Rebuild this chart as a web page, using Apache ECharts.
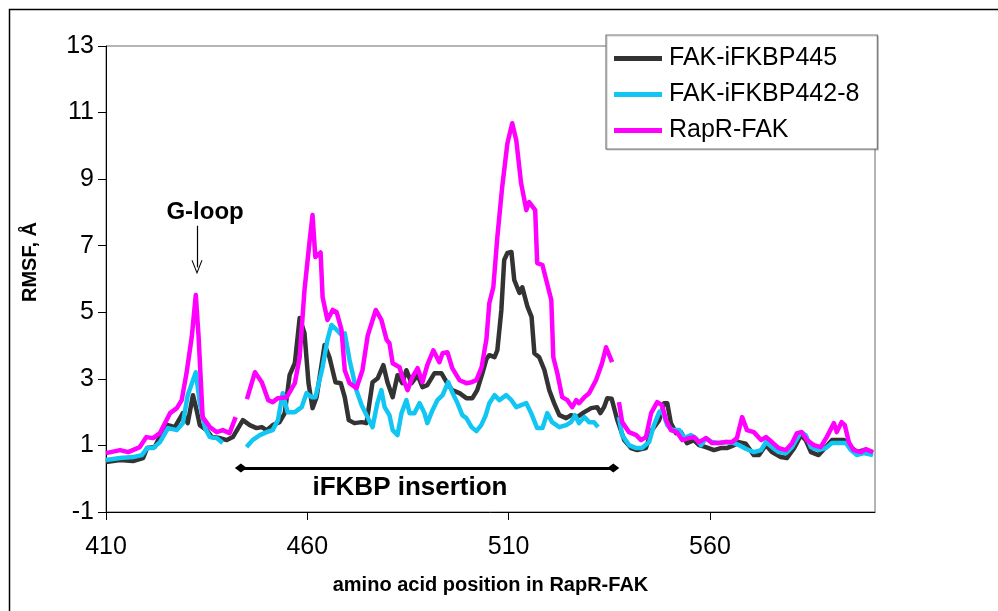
<!DOCTYPE html>
<html>
<head>
<meta charset="utf-8">
<script src="https://cdn.jsdelivr.net/npm/echarts@6/dist/echarts.min.js"></script>
<style>
  html, body { margin: 0; padding: 0; background: #fff; }
  #chart { width: 998px; height: 611px; }
</style>
</head>
<body>
<div id="chart"></div>
<script>
// tick labels on x
const xTicks = [410, 460, 510, 560];
const seriesNames = ["FAK-iFKBP445", "FAK-iFKBP442-8", "RapR-FAK"];

// FAK-iFKBP445 (black)
const xBlack = [410, 413.5, 416.7, 419.2, 420.2, 422.1, 424.1, 425.4, 427.1, 429.1, 430.3, 431.6, 432.5, 433.3, 435, 436.3, 438.3, 440, 441.5, 444, 445.7, 447.4, 448.7, 449.9, 451.4, 453.1, 454.4, 455.6, 456.9, 458.1, 459.3, 460.3, 461.3, 462.3, 464.3, 465.5, 467, 468.3, 469.3, 470.3, 471.7, 473.5, 474.7, 476.2, 477.5, 478.9, 479.9, 481.2, 482.4, 483.6, 484.6, 485.9, 487.4, 488.6, 489.8, 491.6, 493.3, 494.6, 496, 497.8, 499.5, 501, 502.2, 503.5, 504.5, 505.2, 506.5, 507.2, 508.2, 508.9, 509.7, 510.7, 511.4, 512.7, 513.4, 514.7, 515.7, 516.4, 517.6, 518.9, 520.1, 521.3, 522.6, 524.3, 525.5, 527, 528.8, 530.5, 532, 532.8, 533.7, 534.5, 535.6, 537, 538.7, 540.4, 541.9, 544.1, 545.6, 547.4, 548.6, 549.4, 550.3, 551.6, 552.8, 554.3, 556, 557.3, 559, 561, 562.7, 564.2, 566, 567.2, 568.9, 570.9, 572.2, 573.9, 575.4, 577.6, 579.1, 580.9, 582.6, 583.8, 585.1, 587, 588.8, 590.3, 592, 593.3, 595, 596.5, 598.2, 600.5];
const yBlack = [0.50, 0.56, 0.53, 0.62, 0.92, 0.95, 1.46, 1.61, 1.55, 1.97, 1.67, 2.51, 2.06, 1.61, 1.46, 1.25, 1.22, 1.16, 1.25, 1.76, 1.61, 1.52, 1.55, 1.46, 1.61, 1.70, 1.97, 3.11, 3.47, 4.83, 4.37, 2.87, 2.12, 2.45, 4.02, 3.65, 2.90, 2.87, 2.45, 1.76, 1.67, 1.70, 1.67, 2.90, 3.02, 3.41, 2.90, 2.45, 3.11, 2.87, 3.26, 2.87, 3.11, 2.75, 2.81, 3.17, 3.17, 2.90, 2.66, 2.57, 2.42, 2.42, 2.66, 3.17, 3.60, 3.71, 3.65, 3.86, 5.07, 6.57, 6.78, 6.81, 5.97, 5.58, 5.75, 5.16, 4.86, 3.77, 3.65, 3.26, 2.66, 2.27, 1.91, 1.82, 1.91, 1.85, 2.00, 2.12, 2.15, 1.97, 2.15, 2.42, 2.40, 1.76, 1.16, 0.92, 0.86, 0.92, 1.46, 1.76, 2.27, 2.27, 1.67, 1.37, 1.40, 1.07, 1.16, 1.01, 0.95, 0.86, 0.92, 0.92, 1.01, 1.10, 1.05, 0.71, 0.71, 1.01, 0.80, 0.65, 0.62, 0.92, 1.31, 1.16, 0.80, 0.71, 0.95, 1.16, 1.16, 1.16, 0.95, 0.80, 0.86, 0.77];

// FAK-iFKBP442-8 (cyan), null = gap
const xCyan = [410, 413.5, 416.7, 418.9, 420.2, 421.7, 423.4, 425.4, 427.6, 429.1, 430.3, 432.3, 433.3, 434.6, 435.8, 437.5, 439, 441, 444.9, 446.4, 448.2, 449.9, 451.4, 452.7, 453.9, 455.1, 456.9, 458.6, 459.8, 461.1, 462, 463.8, 465, 466, 467.3, 468.5, 469.3, 470.5, 472.2, 473.5, 474.7, 476.2, 477.4, 478.4, 479.2, 480.4, 481.2, 482.4, 483.4, 484.6, 485.4, 486.6, 487.9, 489.1, 489.8, 491.1, 492.3, 493.6, 495, 496, 497.3, 498.5, 499.5, 500.8, 502, 503.2, 504.3, 505.2, 506.5, 507.7, 509.4, 510.7, 511.9, 513.1, 514.4, 515.6, 517.1, 518.4, 519.6, 520.8, 522.6, 524.3, 525.5, 526.5, 527.5, 528.8, 530, 531.2, 532.2, 535, 537.4, 538.2, 539.9, 541.7, 543.1, 544.9, 546.1, 547.4, 548.1, 549.4, 550.6, 552.4, 553.6, 555.3, 556.5, 557.8, 559, 560.5, 562.2, 564, 566, 567.2, 568.9, 570.9, 572.7, 573.9, 575.4, 577.1, 578.9, 580.4, 582.6, 583.8, 585.1, 587, 588.8, 590.3, 592, 593.8, 595, 596.5, 598.2, 600.5];
const yCyan = [0.56, 0.62, 0.65, 0.71, 0.92, 0.92, 1.10, 1.52, 1.46, 1.67, 2.51, 3.20, 2.27, 1.52, 1.25, 1.22, 1.07, null, 0.95, 1.16, 1.31, 1.40, 1.46, 1.76, 2.57, 2.00, 2.00, 2.15, 2.57, 2.45, 2.45, 3.35, 4.17, 4.62, 4.47, 4.32, 4.37, 3.56, 2.66, 2.21, 1.91, 1.55, 2.27, 2.66, 2.15, 1.91, 1.46, 1.31, 1.97, 2.36, 1.97, 1.97, 2.27, 1.97, 1.67, 2.06, 2.36, 2.51, 2.90, 2.60, 2.27, 1.91, 1.82, 1.55, 1.43, 1.61, 1.90, 2.27, 2.51, 2.36, 2.51, 2.36, 2.15, 2.21, 2.27, 1.97, 1.52, 1.52, 1.97, 1.70, 1.55, 1.61, 1.70, 1.91, 1.67, 1.85, 1.70, 1.70, 1.55, null, 1.85, 1.31, 1.01, 0.92, 0.92, 1.10, 1.61, 2.00, 2.06, 1.61, 1.46, 1.46, 1.22, 1.31, 1.22, 1.01, 1.22, 1.10, 1.07, 1.10, 1.07, 1.01, 0.90, 0.80, 0.86, 1.10, 0.95, 0.80, 0.77, 0.95, 1.40, 1.31, 0.95, 0.86, 0.92, 1.07, 1.07, 1.07, 0.86, 0.71, 0.77, 0.71];

// RapR-FAK (magenta), null = gap
const xMagenta = [410, 413.5, 415.5, 418.4, 420, 421.7, 423.4, 425.9, 427.6, 428.8, 430, 431.3, 432.3, 433, 434, 435.8, 437.5, 439, 440.7, 442.2, 443.5, 445, 447, 448.7, 450.3, 451.4, 452.7, 454.9, 456.9, 458.1, 459.3, 460.6, 461.3, 462, 463.3, 463.8, 465, 466.3, 467.3, 468.5, 469.3, 470.5, 472.2, 473.7, 475, 477, 478.4, 479.7, 480.4, 481.2, 482.9, 483.6, 484.9, 486.1, 487.4, 488.6, 489.8, 491.3, 492.8, 493.6, 494.8, 496, 497.8, 499.5, 500.8, 502, 503.3, 504.5, 505.2, 506.2, 507.2, 508.4, 509.7, 510.9, 511.9, 513.1, 514.4, 515.1, 516.6, 517.1, 518.4, 520.6, 521.1, 522.1, 523.3, 524.6, 525.8, 526.8, 527.5, 528.8, 530, 531.7, 533.2, 534.2, 535.7, 536.6, 537.4, 538.2, 539.9, 541.7, 542.9, 544.1, 545.4, 546.9, 548.1, 549.1, 550.3, 551.8, 553.1, 554.8, 556, 557.3, 559, 560.5, 562.2, 564, 565.5, 566.7, 568, 569.2, 570.9, 572.7, 573.9, 575.4, 577.1, 578.9, 580.4, 581.6, 582.8, 584.1, 585.8, 587.5, 589, 590.8, 591.5, 592.7, 593.5, 594.5, 595.7, 597.5, 598.7, 600.5];
const yMagenta = [0.77, 0.86, 0.80, 0.95, 1.25, 1.22, 1.37, 1.97, 2.12, 2.36, 3.17, 4.26, 5.52, 4.26, 1.85, 1.55, 1.40, 1.46, 1.37, 1.85, null, 2.39, 3.20, 2.90, 2.36, 2.30, 2.42, 2.45, 2.87, 3.65, 5.67, 7.17, 7.92, 6.66, 6.80, 5.45, 4.77, 5.07, 5.00, 4.47, 3.26, 2.87, 2.72, 3.26, 4.30, 5.07, 4.77, 4.17, 4.07, 3.47, 3.35, 3.05, 2.66, 3.05, 3.32, 2.90, 3.41, 3.86, 3.50, 3.77, 3.80, 3.32, 2.96, 2.87, 2.90, 2.96, 3.35, 4.20, 5.27, 5.75, 7.26, 8.76, 10.08, 10.68, 10.17, 8.88, 8.07, 8.31, 8.07, 6.48, 6.42, 5.37, 3.65, 3.17, 2.45, 2.36, 2.15, 2.36, 2.27, 2.45, 2.57, 2.96, 3.47, 3.95, 3.50, null, 2.30, 1.70, 1.40, 1.31, 1.16, 1.25, 1.97, 2.30, 2.21, 1.76, 1.46, 1.40, 1.16, 1.22, 1.25, 1.10, 1.22, 1.07, 1.07, 1.10, 1.10, 1.22, 1.85, 1.46, 1.40, 1.16, 1.25, 1.10, 0.92, 0.86, 1.07, 1.37, 1.40, 1.16, 1.01, 0.95, 1.25, 1.67, 1.40, 1.70, 1.61, 1.10, 0.86, 0.80, 0.89, 0.80];

// annotations (data coordinates)
const insertionSpan = [443.5, 536];
const gLoopArrow = [432.6, 7.6, 6.35];

const FONT = "Liberation Sans, Arial, sans-serif";
const colors = ["#333333", "#12c6f3", "#ff00ff"];

function pairs(xs, ys) {
  return xs.map((x, i) => [x, ys[i] === null ? "-" : ys[i]]);
}

const chart = echarts.init(document.getElementById("chart"));

function lineSeries(name, xs, ys, color) {
  return {
    name: name,
    type: "line",
    data: pairs(xs, ys),
    showSymbol: false,
    symbol: "none",
    connectNulls: false,
    animation: false,
    lineStyle: { color: color, width: 4.5, join: "round" },
    itemStyle: { color: color },
  };
}

const option = {
  backgroundColor: "#ffffff",
  animation: false,
  textStyle: { fontFamily: FONT },
  grid: {
    left: 106,
    right: 123,
    top: 46,
    bottom: 99,
    show: true,
    borderColor: "#6a6a6a",
    borderWidth: 1,
  },
  legend: {
    data: seriesNames,
    orient: "vertical",
    left: 606,
    top: 35,
    padding: [11, 18, 6, 8],
    itemGap: 11,
    itemWidth: 48,
    itemHeight: 5,
    icon: "rect",
    backgroundColor: "#ffffff",
    borderColor: "#7a7a7a",
    borderWidth: 1.2,
    shadowColor: "rgba(0,0,0,0.2)",
    shadowOffsetX: 1,
    shadowOffsetY: 1,
    textStyle: { fontSize: 25, color: "#000", fontFamily: FONT, padding: [0, 0, 0, 2] },
  },
  xAxis: {
    type: "value",
    min: 410,
    max: 601,
    interval: 50,
    name: "amino acid position in RapR-FAK",
    nameLocation: "middle",
    nameGap: 63,
    nameTextStyle: { fontSize: 20, fontWeight: "bold", color: "#000", fontFamily: FONT },
    axisLine: { onZero: false, lineStyle: { color: "#000", width: 1 } },
    axisTick: { inside: false, length: 8, lineStyle: { color: "#000" } },
    axisLabel: {
      fontSize: 25,
      color: "#000",
      margin: 23,
      showMaxLabel: false,
      formatter: (v) => (xTicks.indexOf(v) >= 0 ? String(v) : ""),
    },
    splitLine: { show: false },
  },
  yAxis: {
    type: "value",
    min: -1,
    max: 13,
    interval: 2,
    axisLine: { show: true, onZero: false, lineStyle: { color: "#000", width: 1 } },
    axisTick: { show: true, inside: false, length: 8, lineStyle: { color: "#000" } },
    axisLabel: { fontSize: 25, color: "#000", margin: 12 },
    splitLine: { show: false },
  },
  series: [
    lineSeries(seriesNames[0], xBlack, yBlack, colors[0]),
    lineSeries(seriesNames[1], xCyan, yCyan, colors[1]),
    lineSeries(seriesNames[2], xMagenta, yMagenta, colors[2]),
    {
      // annotation holder
      name: "annot",
      type: "line",
      data: [],
      silent: true,
      markLine: {
        silent: true,
        animation: false,
        label: { show: false },
        data: [
          [
            { coord: [insertionSpan[0], 0.32], symbol: "diamond", symbolSize: [9, 12], lineStyle: { color: "#000", width: 3, type: "solid" } },
            { coord: [insertionSpan[1], 0.32], symbol: "diamond", symbolSize: [9, 12] },
          ],
          [
            { coord: [gLoopArrow[0], gLoopArrow[1]], symbol: "none", lineStyle: { color: "#000", width: 1.2, type: "solid" } },
            { coord: [gLoopArrow[0], gLoopArrow[2]], symbol: "path://M0,10 L5,0 L10,10 L9,10 L5,2 L1,10 Z", symbolSize: [11, 14] },
          ],
        ],
      },
      markPoint: {
        silent: true,
        animation: false,
        symbol: "circle",
        symbolSize: 0,
        label: { show: true, color: "#000", fontWeight: "bold", fontFamily: FONT, position: "inside", formatter: (p) => p.name },
        data: [
          { name: "G-loop", coord: [434.6, 8.0], label: { fontSize: 24 } },
          { name: "iFKBP insertion", coord: [485.5, -0.28], label: { fontSize: 26 } },
        ],
      },
    },
  ],
  graphic: [
    {
      type: "rect",
      left: 7,
      top: 7,
      shape: { width: 1200, height: 800 },
      style: { fill: "none", stroke: "#000", lineWidth: 1.5 },
      silent: true,
    },
    {
      type: "text",
      left: 20,
      top: 222,
      rotation: Math.PI / 2,
      style: { text: "RMSF, Å", font: "bold 20px " + FONT, fill: "#000" },
      silent: true,
    },
  ],
};

chart.setOption(option);
</script>
</body>
</html>
